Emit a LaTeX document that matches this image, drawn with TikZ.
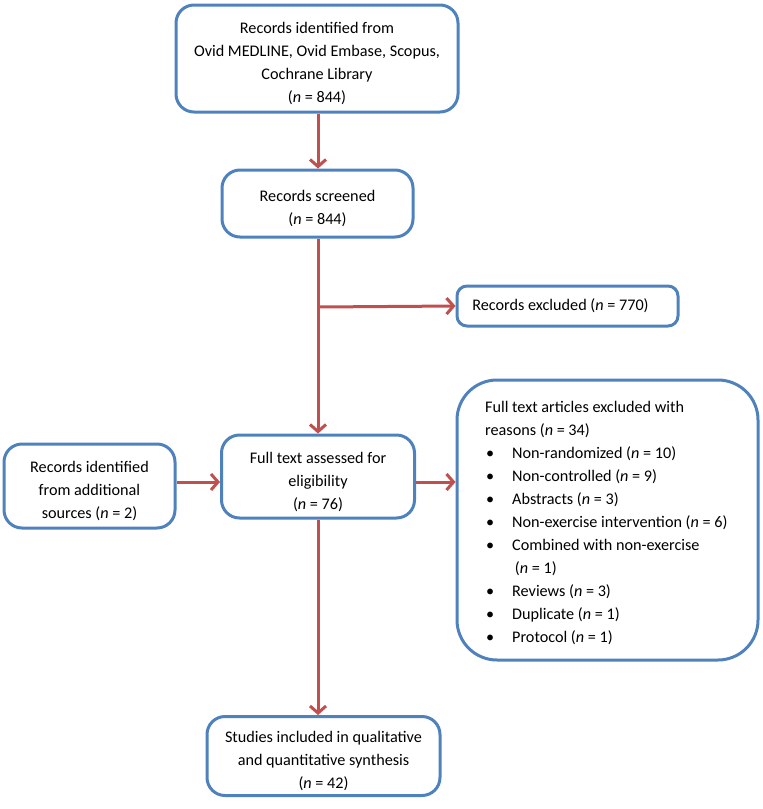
\documentclass[tikz,border=0pt]{standalone}
\usepackage{fontspec}
\setmainfont{Carlito}
\usetikzlibrary{arrows.meta,calc}
\definecolor{boxblue}{RGB}{79,129,189}
\definecolor{arrred}{RGB}{192,80,77}
\newcommand{\lowerfirst}{\rule{0pt}{22pt}}
\begin{document}
\begin{tikzpicture}[x=1pt,y=-1pt,
  box/.style={draw=boxblue,line width=3pt,rounded corners=18pt,align=center,inner sep=0pt,
    font=\fontsize{16.2}{23}\selectfont},
  flow/.style={draw=arrred,line width=3pt,-{Straight Barb[length=7pt,width=16pt,line width=3pt]}},
  txt/.style={inner sep=0pt,align=left,font=\fontsize{16.2}{23}\selectfont}]
\useasboundingbox (0,0) rectangle (763,809);
\node[box,minimum width=282pt,minimum height=107pt] (b1) at (317,58.5)
  {\lowerfirst Records identified from\\Ovid MEDLINE, Ovid Embase, Scopus,\\Cochrane Library\\(\textit{n} = 844)};
\node[box,minimum width=191pt,minimum height=67pt] (b2) at (317.5,203.5)
  {\lowerfirst Records screened\\(\textit{n} = 844)};
\node[box,minimum width=221pt,minimum height=40pt,rounded corners=10pt] (excl) at (567.5,306)
  {Records excluded (\textit{n} = 770)\hspace*{14pt}};
\node[box,minimum width=193pt,minimum height=83pt] (full) at (318,476.5)
  {\lowerfirst Full text assessed for\\eligibility\\(\textit{n} = 76)};
\node[box,minimum width=171pt,minimum height=84pt] (left) at (89.5,486)
  {\lowerfirst Records identified\\from additional\\sources (\textit{n} = 2)};
\node[box,minimum width=301pt,minimum height=280pt,rounded corners=40pt] (rb) at (607.5,520) {};
\node[txt,anchor=north west] (rtext) at (485,401)
  {Full text articles excluded with\\
   reasons (\textit{n} = 34)\\
   \hspace*{1pt}\makebox[26pt][l]{\textbullet}Non-randomized (\textit{n} = 10)\\
   \hspace*{1pt}\makebox[26pt][l]{\textbullet}Non-controlled (\textit{n} = 9)\\
   \hspace*{1pt}\makebox[26pt][l]{\textbullet}Abstracts (\textit{n} = 3)\\
   \hspace*{1pt}\makebox[26pt][l]{\textbullet}Non-exercise intervention (\textit{n} = 6)\\
   \hspace*{1pt}\makebox[26pt][l]{\textbullet}Combined with non-exercise\\
   \hspace*{1pt}\makebox[26pt][l]{}\,(\textit{n} = 1)\\
   \hspace*{1pt}\makebox[26pt][l]{\textbullet}Reviews (\textit{n} = 3)\\
   \hspace*{1pt}\makebox[26pt][l]{\textbullet}Duplicate (\textit{n} = 1)\\
   \hspace*{1pt}\makebox[26pt][l]{\textbullet}Protocol (\textit{n} = 1)};
\node[box,minimum width=233pt,minimum height=79pt] (bot) at (323.5,756)
  {\lowerfirst Studies included in qualitative\\and quantitative synthesis\\(\textit{n} = 42)};
\coordinate (branch) at (318,307);
\coordinate (ya) at (0,482);
\draw[flow] (b1.south -| full.north) -- (b2.north -| full.north);
\draw[flow] (b2.south -| full.north) -- (full.north);
\draw[flow] (branch) -- (excl.west);
\draw[flow] (left.east |- ya) -- (full.west |- ya);
\draw[flow] (full.east |- ya) -- (rb.west |- ya);
\draw[flow] (full.south) -- (full.south |- bot.north);
\end{tikzpicture}
\end{document}
